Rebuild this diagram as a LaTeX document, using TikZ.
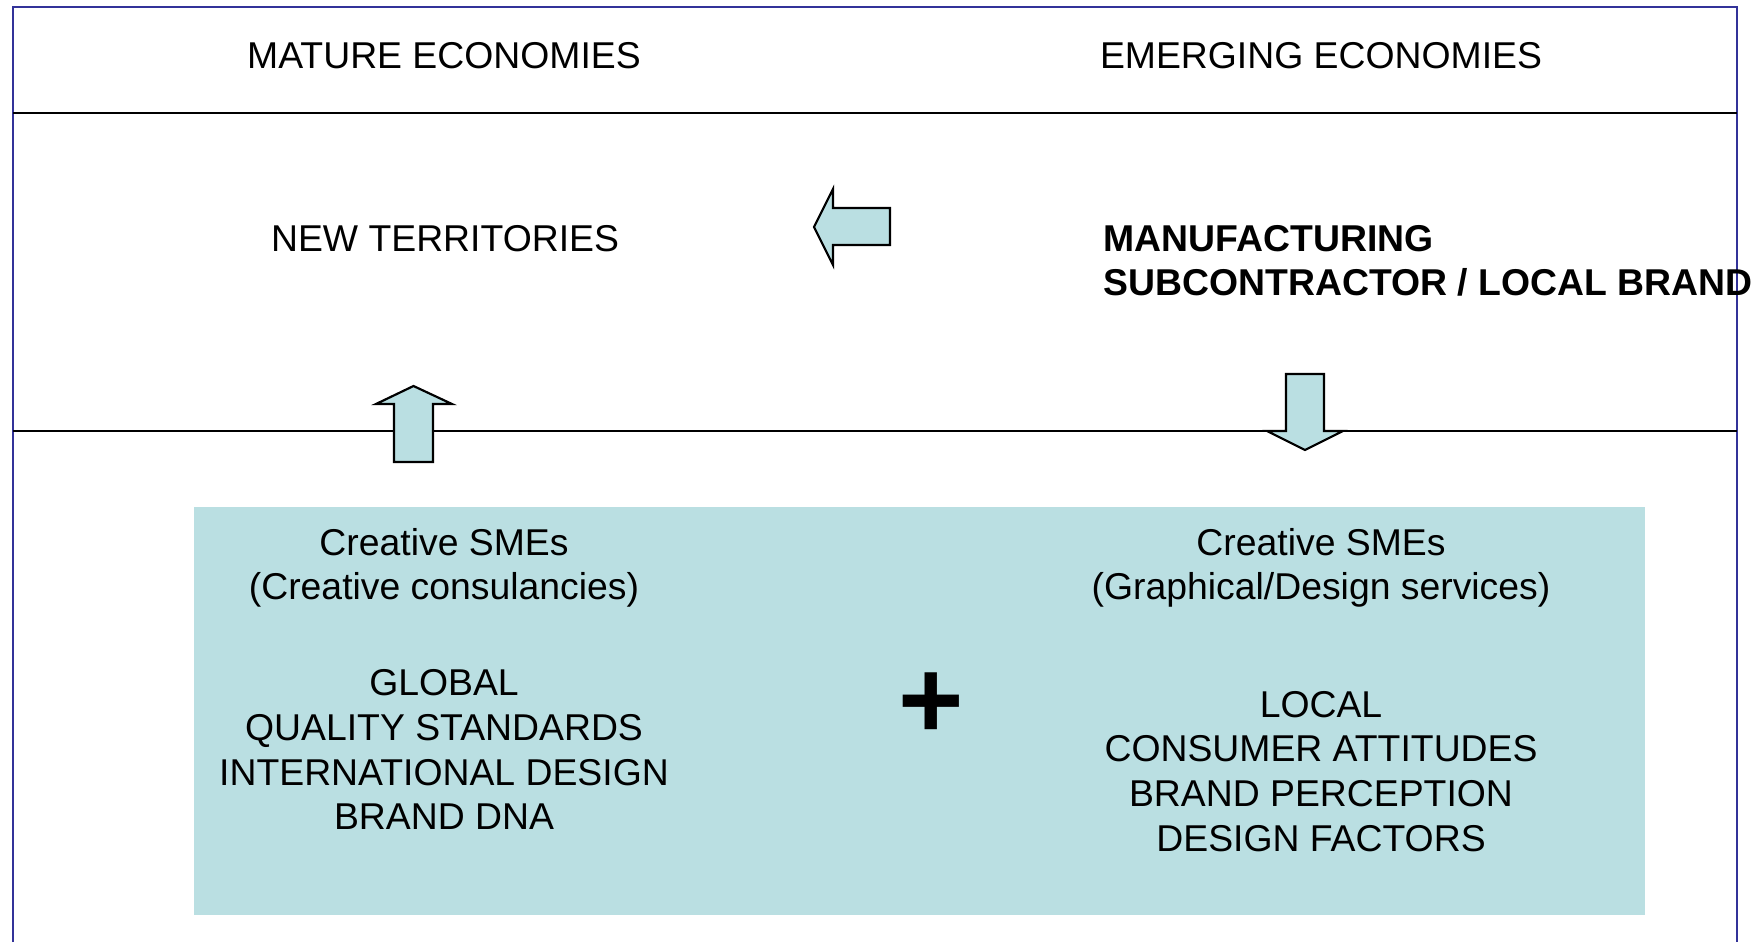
\documentclass[tikz,border=0pt]{standalone}
\usepackage{fontspec}
\setmainfont{Liberation Sans}
\usepackage{tikz}
\usetikzlibrary{positioning}
\definecolor{framecol}{RGB}{51,51,153}
\definecolor{boxcol}{RGB}{186,223,226}
\tikzset{>=stealth}
\tikzset{lbl/.style={inner sep=0pt, anchor=base},
    blockarrow/.style={draw=black, fill=boxcol, line width=0.7pt, line join=miter}}

\begin{document}
\begin{tikzpicture}[x=0.3213pt, y=-0.3213pt, font=\fontsize{12}{14.4}\selectfont]
    \useasboundingbox (0,0) rectangle (1760,942);

    % frame and rows
    \draw[framecol, line width=0.65pt] (13,942) -- (13,7) -- (1737,7) -- (1737,942);
    \draw[line width=0.55pt] (13,113) -- (1737,113);
    \draw[line width=0.55pt] (13,431) -- (1737,431);

    \node[lbl] (mature) at (444,68) {MATURE ECONOMIES};
    \node[lbl] (emerging) at (1321,68) {EMERGING ECONOMIES};

    \node[lbl] (newterr) at (445,251) {NEW TERRITORIES};
    \node[lbl, anchor=base west] (manuf) at (1103,251) {\bfseries MANUFACTURING};
    \node[lbl, anchor=base west] (subcon) at (1103,295) {\bfseries SUBCONTRACTOR / LOCAL BRAND};

    % block arrows
    \draw[blockarrow] (890,208) -- (833,208) -- (833,189) -- (814,227) -- (833,265) -- (833,245) -- (890,245) -- cycle;
    \draw[blockarrow] (394,462) -- (394,404) -- (376,404) -- (413.5,386) -- (452,404) -- (433,404) -- (433,462) -- cycle;
    \draw[blockarrow] (1286,374) -- (1286,431) -- (1267,431) -- (1305,450) -- (1343,431) -- (1324,431) -- (1324,374) -- cycle;

    % SME box
    \fill[boxcol] (194,507) rectangle (1645,915);

    \node[lbl] (smeleft) at (444,555) {Creative SMEs};
    \node[lbl] (smeleftsub) at (444,599) {(Creative consulancies)};
    \node[lbl] (smeright) at (1321,555) {Creative SMEs};
    \node[lbl] (smerightsub) at (1321,599) {(Graphical/Design services)};

    \foreach \txt/\y in {GLOBAL/695, QUALITY STANDARDS/740, INTERNATIONAL DESIGN/785, BRAND DNA/829}
    {\node[lbl] (gl\y) at (444,\y) {\txt};}

    \foreach \txt/\y in {LOCAL/717, CONSUMER ATTITUDES/761, BRAND PERCEPTION/806, DESIGN FACTORS/851}
    {\node[lbl] (lo\y) at (1321,\y) {\txt};}

    \node[lbl] (plus) at (931,738) {\fontsize{36}{40}\selectfont\bfseries +};

\end{tikzpicture}
\end{document}
